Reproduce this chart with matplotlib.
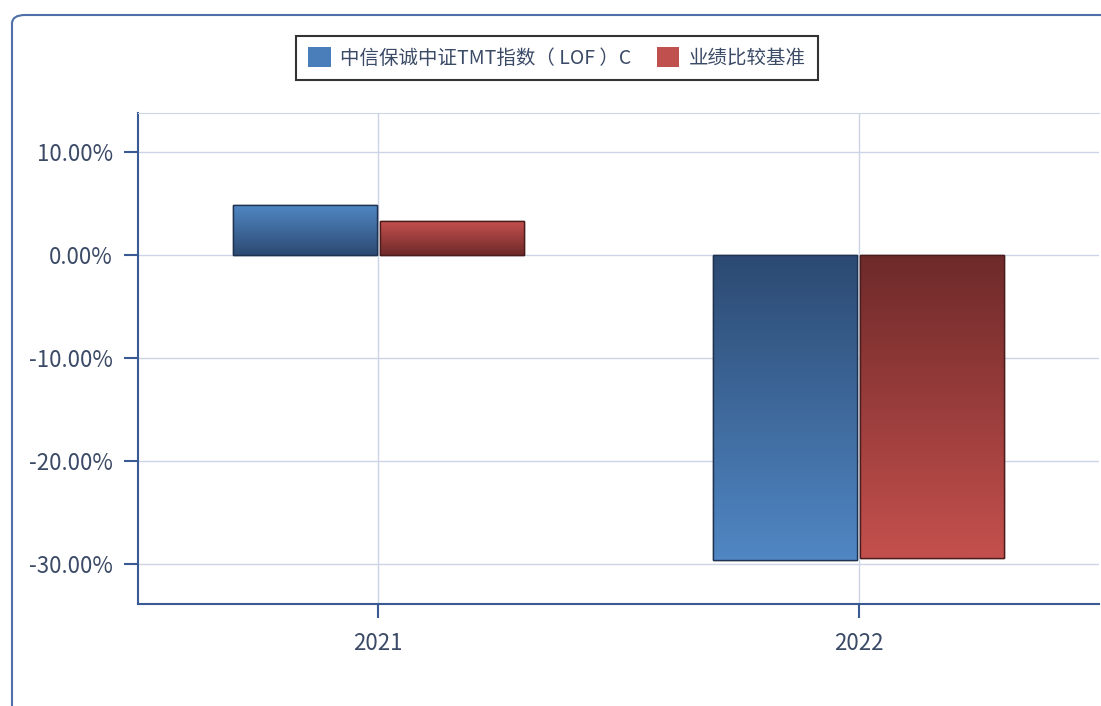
import numpy as np
import matplotlib
matplotlib.use("Agg")
import matplotlib.pyplot as plt
from matplotlib.patches import FancyBboxPatch, Patch
from matplotlib.colors import LinearSegmentedColormap

plt.rcParams['font.family'] = ['Noto Sans CJK SC', 'DejaVu Sans']

categories = ["2021", "2022"]
series_names = ["中信保诚中证TMT指数（ LOF ）C", "业绩比较基准"]
fund_values = [4.85, -29.6]
bench_values = [3.3, -29.4]
yticks = [10, 0, -10, -20, -30]
ytick_labels = ["10.00%", "0.00%", "-10.00%", "-20.00%", "-30.00%"]

W, H = 1101, 706
fig = plt.figure(figsize=(W / 100, H / 100), dpi=100)

# outer rounded frame
frame = FancyBboxPatch((12 / W, -0.1), 1.2, (H - 15) / H + 0.1,
                       boxstyle="round,pad=0,rounding_size=0.012",
                       transform=fig.transFigure, fill=False,
                       edgecolor="#4f6fa8", linewidth=1.5, clip_on=False)
fig.patches.append(frame)

ax = fig.add_axes([138 / W, 1 - 604 / H, (1099 - 138) / W, (604 - 113) / H])
x = np.arange(len(categories))
width = 0.3
gap = 0.003
text_color = "#3b4a66"

blue_cmap = LinearSegmentedColormap.from_list("b", ["#2c4a72", "#5087c4"])
red_cmap = LinearSegmentedColormap.from_list("r", ["#6e2a2a", "#c4504d"])

bars_f = ax.bar(x - width / 2 - gap, fund_values, width, color="#4a7ebb",
                edgecolor="#1f3350", linewidth=1.0, zorder=3)
bars_b = ax.bar(x + width / 2 + gap, bench_values, width, color="#c0504d",
                edgecolor="#4a1c1c", linewidth=1.0, zorder=3)

# gradient fill: darker near baseline, lighter toward value end
for bars, cmap in ((bars_f, blue_cmap), (bars_b, red_cmap)):
    for b in bars:
        x0, w, h = b.get_x(), b.get_width(), b.get_height()
        grad = np.linspace(0, 1, 256).reshape(-1, 1)
        if h >= 0:
            extent = (x0, x0 + w, 0, h)
            img = grad
        else:
            extent = (x0, x0 + w, h, 0)
            img = grad[::-1]
        im = ax.imshow(img, cmap=cmap, extent=extent, origin="lower",
                       aspect="auto", zorder=3.5, vmin=0, vmax=1)
        im.set_clip_path(b)
        ax.add_patch(plt.Rectangle((x0, min(0, h)), w, abs(h), fill=False,
                                   edgecolor=b.get_edgecolor(), linewidth=1.0,
                                   zorder=4))

ax.set_xlim(-0.5, 1.5)
ax.set_ylim(-33.9, 13.8)
ax.set_xticks(x)
ax.set_xticklabels(categories)
ax.set_yticks(yticks)
ax.set_yticklabels(ytick_labels)
ax.grid(True, color="#ccd5e6", linewidth=1.0, zorder=0)
ax.set_axisbelow(True)

ax.spines["top"].set_color("#ccd5e6")
ax.spines["right"].set_visible(False)
for s in ("left", "bottom"):
    ax.spines[s].set_color("#3a5a94")
    ax.spines[s].set_linewidth(1.5)

ax.tick_params(axis="both", colors="#3a5a94", labelcolor=text_color,
               labelsize=16, length=10, width=1.5)
ax.tick_params(axis="y", pad=8)
ax.tick_params(axis="x", pad=10)

handles = [Patch(facecolor="#4a7ebb", edgecolor="none"),
           Patch(facecolor="#c0504d", edgecolor="none")]
leg = fig.legend(handles, series_names, loc="center",
                 bbox_to_anchor=(557 / W, 1 - 58 / H), ncol=2, frameon=True,
                 fancybox=False, edgecolor="black", fontsize=14,
                 handlelength=1.15, handleheight=1.15, handletextpad=0.5,
                 columnspacing=1.3, borderpad=0.6, borderaxespad=0)
leg.get_frame().set_linewidth(1.5)
for t in leg.get_texts():
    t.set_color(text_color)

fig.savefig("out.png", dpi=100)
